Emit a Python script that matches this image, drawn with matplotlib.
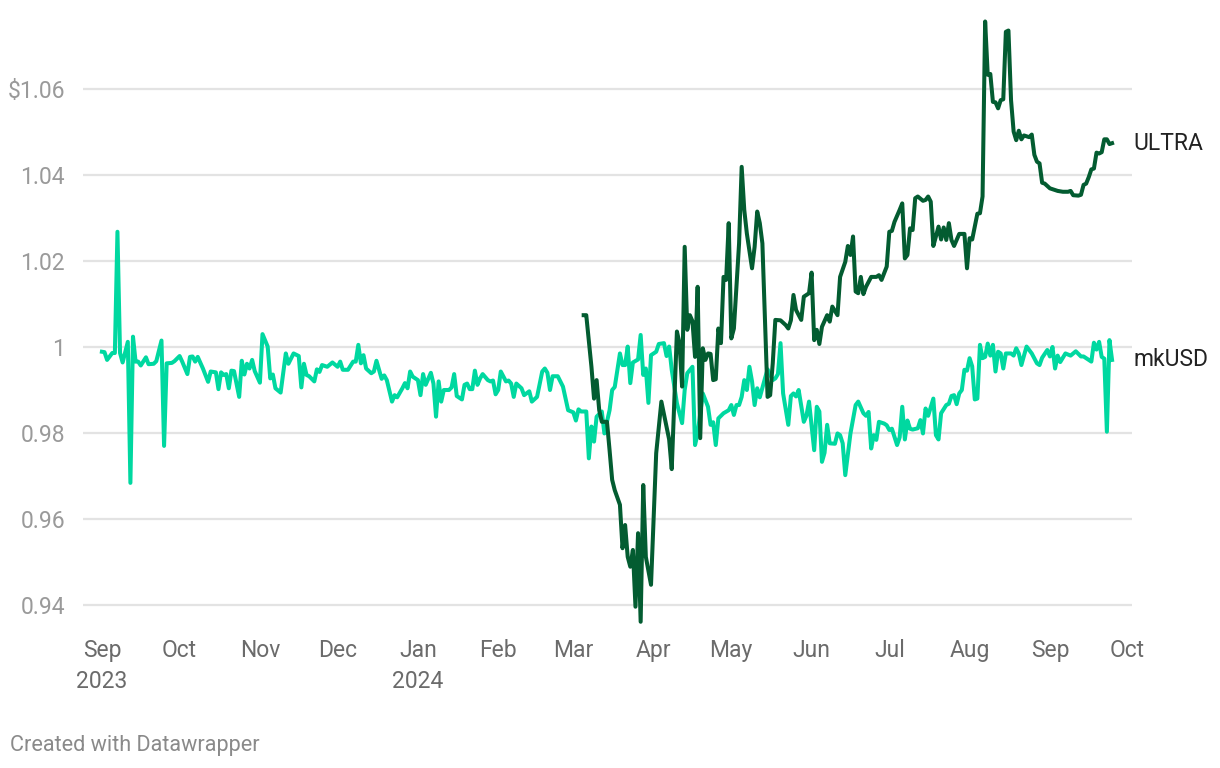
import matplotlib
matplotlib.use("Agg")
import matplotlib.pyplot as plt
import matplotlib.transforms as mtransforms
import pandas as pd

plt.rcParams['font.family'] = ['Roboto', 'DejaVu Sans']

# days since 2023-09-01
mk_day = [0, 1, 2, 4, 5, 6, 7, 8, 10, 11, 12, 13, 14, 15, 17, 18, 20, 21, 23, 24,
          25, 27, 28, 30, 31, 33, 34, 35, 36, 37, 39, 41, 42, 44, 45, 46, 47, 48, 49, 50,
          51, 53, 54, 55, 56, 57, 58, 59, 61, 62, 64, 65, 66, 67, 69, 71, 72, 74, 76, 77,
          78, 79, 80, 82, 83, 84, 85, 87, 89, 91, 92, 93, 95, 97, 98, 99, 100, 101, 102, 104,
          105, 106, 108, 109, 110, 112, 113, 114, 116, 117, 118, 119, 120, 122, 123, 124, 125, 127, 128, 129,
          130, 131, 132, 134, 135, 136, 137, 139, 140, 141, 142, 143, 144, 145, 146, 147, 149, 150, 151, 152,
          153, 154, 156, 157, 158, 159, 160, 162, 163, 165, 166, 168, 170, 171, 172, 173, 174, 176, 178, 180,
          182, 183, 184, 185, 187, 188, 189, 190, 191, 193, 194, 196, 197, 198, 200, 201, 202, 203, 204, 205,
          207, 208, 209, 210, 211, 212, 214, 215, 217, 218, 219, 220, 222, 224, 225, 226, 228, 229, 230, 232,
          234, 235, 236, 237, 238, 240, 242, 243, 244, 245, 246, 247, 248, 249, 250, 251, 252, 253, 254, 256,
          257, 259, 260, 261, 262, 263, 265, 266, 267, 268, 269, 271, 272, 273, 275, 276, 277, 278, 279, 280,
          281, 283, 284, 285, 286, 287, 289, 291, 292, 294, 295, 296, 297, 298, 299, 300, 302, 303, 304, 305,
          307, 308, 309, 310, 311, 312, 313, 315, 316, 317, 318, 319, 321, 322, 323, 324, 326, 327, 328, 329,
          330, 331, 332, 333, 334, 335, 336, 337, 338, 339, 340, 341, 342, 343, 344, 345, 346, 347, 348, 349,
          351, 352, 353, 354, 355, 356, 357, 359, 361, 362, 363, 365, 366, 367, 368, 369, 370, 372, 374, 376,
          378, 379, 380, 382, 383, 384, 385, 386, 387, 388, 389, 390]
mk_val = [0.9989, 0.9988, 0.9970, 0.9986, 0.9986, 1.0268, 0.9986, 0.9964, 1.0012, 0.9684,
          1.0024, 0.9966, 0.9966, 0.9957, 0.9976, 0.9960, 0.9961, 0.9967, 1.0015, 0.9770,
          0.9962, 0.9963, 0.9967, 0.9979, 0.9966, 0.9937, 0.9977, 0.9978, 0.9966, 0.9977,
          0.9950, 0.9919, 0.9943, 0.9941, 0.9902, 0.9941, 0.9935, 0.9937, 0.9904, 0.9945,
          0.9944, 0.9884, 0.9968, 0.9936, 0.9961, 0.9950, 0.9970, 0.9944, 0.9917, 1.0030,
          1.0001, 0.9927, 0.9936, 0.9904, 0.9894, 0.9985, 0.9961, 0.9985, 0.9979, 0.9906,
          0.9961, 0.9935, 0.9932, 0.9920, 0.9948, 0.9942, 0.9958, 0.9954, 0.9964, 0.9954,
          0.9966, 0.9947, 0.9947, 0.9966, 0.9966, 1.0005, 0.9962, 0.9981, 0.9950, 0.9939,
          0.9943, 0.9968, 0.9926, 0.9934, 0.9923, 0.9873, 0.9888, 0.9883, 0.9904, 0.9916,
          0.9904, 0.9943, 0.9931, 0.9923, 0.9888, 0.9937, 0.9912, 0.9940, 0.9915, 0.9838,
          0.9920, 0.9873, 0.9900, 0.9900, 0.9906, 0.9937, 0.9886, 0.9878, 0.9912, 0.9915,
          0.9902, 0.9902, 0.9945, 0.9912, 0.9927, 0.9937, 0.9923, 0.9920, 0.9922, 0.9890,
          0.9900, 0.9943, 0.9920, 0.9922, 0.9915, 0.9884, 0.9915, 0.9904, 0.9888, 0.9897,
          0.9873, 0.9884, 0.9943, 0.9950, 0.9940, 0.9900, 0.9932, 0.9932, 0.9908, 0.9853,
          0.9848, 0.9829, 0.9855, 0.9850, 0.9850, 0.9741, 0.9815, 0.9780, 0.9838, 0.9850,
          0.9799, 0.9853, 0.9900, 0.9907, 0.9985, 0.9958, 0.9958, 1.0001, 0.9916, 0.9964,
          0.9971, 1.0028, 0.9935, 0.9950, 0.9870, 0.9981, 0.9989, 1.0007, 1.0009, 0.9979,
          1.0001, 0.9947, 0.9869, 0.9823, 0.9900, 0.9939, 0.9954, 0.9772, 0.9799, 0.9892,
          0.9861, 0.9819, 0.9825, 0.9772, 0.9834, 0.9846, 0.9853, 0.9865, 0.9842, 0.9865,
          0.9865, 0.9884, 0.9923, 0.9900, 0.9954, 0.9920, 0.9865, 0.9904, 0.9883, 0.9927,
          0.9948, 0.9923, 0.9927, 0.9937, 1.0009, 0.9892, 0.9819, 0.9886, 0.9892, 0.9885,
          0.9900, 0.9826, 0.9840, 0.9873, 0.9760, 0.9861, 0.9850, 0.9733, 0.9754, 0.9819,
          0.9776, 0.9775, 0.9799, 0.9795, 0.9776, 0.9702, 0.9799, 0.9865, 0.9873, 0.9846,
          0.9840, 0.9849, 0.9764, 0.9795, 0.9784, 0.9826, 0.9822, 0.9818, 0.9807, 0.9810,
          0.9772, 0.9790, 0.9861, 0.9785, 0.9829, 0.9810, 0.9808, 0.9811, 0.9830, 0.9799,
          0.9857, 0.9840, 0.9880, 0.9795, 0.9785, 0.9846, 0.9865, 0.9868, 0.9886, 0.9888,
          0.9867, 0.9892, 0.9900, 0.9947, 0.9945, 0.9974, 0.9955, 0.9878, 0.9880, 1.0005,
          0.9974, 0.9977, 1.0008, 0.9980, 1.0005, 0.9943, 0.9989, 0.9985, 0.9950, 0.9985,
          0.9985, 0.9980, 0.9997, 0.9985, 0.9958, 0.9980, 1.0001, 0.9985, 0.9962, 0.9958,
          0.9975, 0.9993, 0.9978, 1.0000, 0.9950, 0.9980, 0.9965, 0.9985, 0.9980, 0.9990,
          0.9978, 0.9978, 0.9974, 0.9966, 1.0010, 0.9994, 1.0012, 0.9977, 0.9973, 0.9803,
          1.0016, 0.9970]

ultra_day = [186, 187, 189, 190, 191, 192, 193, 195, 196, 197, 198, 200, 201, 202, 203, 204, 205, 206, 207, 208,
             209, 210, 212, 214, 216, 218, 219, 220, 222, 223, 224, 225, 226, 227, 228, 229, 230, 231, 232, 233,
             234, 235, 236, 237, 238, 239, 240, 241, 242, 243, 244, 246, 247, 248, 249, 251, 252, 253, 254, 255,
             257, 258, 259, 260, 262, 264, 265, 266, 267, 268, 270, 271, 273, 274, 275, 276, 277, 278, 280, 281,
             282, 284, 285, 287, 288, 289, 290, 291, 292, 293, 294, 295, 297, 299, 300, 301, 303, 304, 305, 306,
             308, 309, 310, 311, 312, 313, 314, 315, 317, 318, 319, 320, 321, 322, 323, 324, 325, 326, 327, 328,
             329, 330, 331, 333, 334, 335, 336, 337, 338, 339, 340, 341, 342, 343, 344, 345, 346, 347, 348, 349,
             350, 351, 352, 353, 354, 355, 356, 357, 358, 359, 360, 361, 362, 363, 364, 366, 367, 369, 371, 373,
             374, 375, 377, 378, 379, 380, 381, 382, 383, 384, 385, 386, 387, 388, 389, 390]
ultra_val = [1.0074, 1.0074, 0.9954, 0.9880, 0.9923, 0.9853, 0.9826, 0.9826, 0.9760, 0.9691,
             0.9667, 0.9633, 0.9532, 0.9586, 0.9512, 0.9489, 0.9528, 0.9396, 0.9567, 0.9361,
             0.9679, 0.9512, 0.9447, 0.9753, 0.9873, 0.9815, 0.9785, 0.9716, 1.0036, 1.0009,
             0.9908, 1.0233, 1.0040, 1.0074, 1.0060, 0.9977, 1.0140, 0.9788, 0.9997, 0.9970,
             0.9985, 0.9984, 0.9923, 0.9925, 1.0043, 1.0009, 1.0163, 1.0156, 1.0288, 1.0020,
             1.0043, 1.0241, 1.0419, 1.0319, 1.0264, 1.0183, 1.0233, 1.0315, 1.0288, 1.0241,
             0.9884, 0.9888, 0.9962, 1.0063, 1.0062, 1.0051, 1.0043, 1.0062, 1.0121, 1.0086,
             1.0063, 1.0117, 1.0125, 1.0173, 1.0016, 1.0040, 1.0007, 1.0047, 1.0074, 1.0059,
             1.0094, 1.0074, 1.0163, 1.0198, 1.0235, 1.0214, 1.0257, 1.0129, 1.0125, 1.0163,
             1.0123, 1.0140, 1.0163, 1.0163, 1.0167, 1.0156, 1.0187, 1.0268, 1.0270, 1.0291,
             1.0319, 1.0334, 1.0206, 1.0214, 1.0276, 1.0272, 1.0346, 1.0350, 1.0340, 1.0342,
             1.0350, 1.0338, 1.0235, 1.0257, 1.0280, 1.0250, 1.0278, 1.0249, 1.0288, 1.0249,
             1.0235, 1.0249, 1.0263, 1.0263, 1.0183, 1.0253, 1.0250, 1.0280, 1.0310, 1.0311,
             1.0350, 1.0757, 1.0633, 1.0635, 1.0570, 1.0569, 1.0555, 1.0574, 1.0576, 1.0733,
             1.0736, 1.0574, 1.0501, 1.0481, 1.0503, 1.0483, 1.0492, 1.0490, 1.0488, 1.0494,
             1.0447, 1.0431, 1.0427, 1.0382, 1.0380, 1.0369, 1.0367, 1.0363, 1.0361, 1.0361,
             1.0363, 1.0353, 1.0352, 1.0354, 1.0377, 1.0380, 1.0395, 1.0413, 1.0415, 1.0452,
             1.0450, 1.0453, 1.0483, 1.0483, 1.0472, 1.0474]

y_ticks = [0.94, 0.96, 0.98, 1.0, 1.02, 1.04, 1.06]
y_labels = ['0.94', '0.96', '0.98', '1', '1.02', '1.04', '$1.06']
month_starts = pd.date_range('2023-09-01', '2024-10-01', freq='MS')

start = pd.Timestamp('2023-09-01')
mk_dates = start + pd.to_timedelta(mk_day, unit='D')
ultra_dates = start + pd.to_timedelta(ultra_day, unit='D')

c_mk = '#00d8a0'
c_ultra = '#035c31'

fig = plt.figure(figsize=(12.2, 7.68), dpi=100)
ax = fig.add_axes([83 / 1220, 1 - 625 / 768, (1132 - 83) / 1220, (625 - 15) / 768])

ax.plot(mk_dates, mk_val, color=c_mk, lw=2.9, solid_joinstyle='round', zorder=3)
ax.plot(ultra_dates, ultra_val, color=c_ultra, lw=2.9, solid_joinstyle='round', zorder=4)

ax.set_xlim(start - pd.Timedelta(days=7.3), start + pd.Timedelta(days=397.7))
ax.set_ylim(1 - (625 - 347) / 4300, 1 + (347 - 15) / 4300)

ax.set_yticks(y_ticks)
ax.set_yticklabels(y_labels)
ax.yaxis.grid(True, color='#e3e3e3', lw=1.6, zorder=0)
ax.set_axisbelow(True)

labels = []
for d in month_starts:
    lab = d.strftime('%b')
    if d.month == 1 or d == month_starts[0]:
        lab += '\n' + d.strftime('%Y')
    labels.append(lab)
ax.set_xticks(month_starts)
ax.set_xticklabels(labels)

ax.tick_params(axis='y', length=0, pad=13, labelsize=16.5, labelcolor='#9a9a9a')
ax.tick_params(axis='x', length=0, pad=10, labelsize=16.5, labelcolor='#6b6b6b')
for t in ax.get_xticklabels():
    t.set_linespacing(1.45)
    t.set_verticalalignment('top')

for s in ax.spines.values():
    s.set_visible(False)

# series labels at the line ends
trans = mtransforms.blended_transform_factory(ax.transAxes, ax.transData)
ax.annotate('ULTRA', xy=(1.0, ultra_val[-1]), xycoords=trans, xytext=(1, 0),
            textcoords='offset points', ha='left', va='center', fontsize=16.5, color='#222222')
ax.annotate('mkUSD', xy=(1.0, mk_val[-1]), xycoords=trans, xytext=(1, 0),
            textcoords='offset points', ha='left', va='center', fontsize=16.5, color='#222222')

fig.text(10 / 1220, 1 - 745 / 768, 'Created with Datawrapper', ha='left', va='center',
         fontsize=15.6, color='#8a8a8a')

fig.savefig('out.png', dpi=100)
